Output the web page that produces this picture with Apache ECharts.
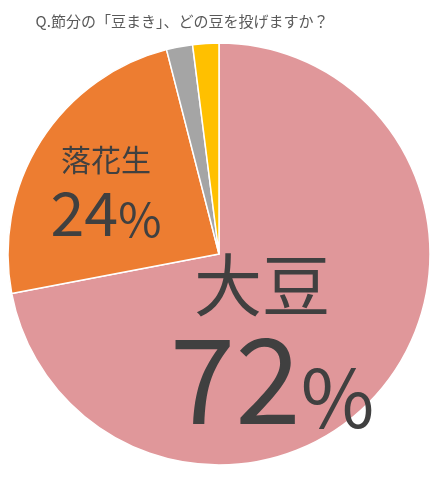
<!DOCTYPE html>
<html>
<head>
<meta charset="utf-8">
<script src="https://cdn.jsdelivr.net/npm/echarts@6/dist/echarts.min.js"></script>
<style>
  html, body { margin: 0; padding: 0; background: #fff; }
  #chart { width: 441px; height: 481px; }
</style>
</head>
<body>
<div id="chart"></div>
<script>
// 設問と回答
var title = 'Q.節分の「豆まき」、どの豆を投げますか？';
var categories = ['大豆', '落花生', 'その他', '無回答'];
var values = [72, 24, 2, 2];
var colors = ['#E0979A', '#ED7D31', '#A5A5A5', '#FFC000'];
var showLabel = [true, true, false, false];

var chart = echarts.init(document.getElementById('chart'));

var labelPos = [
  { x: 272, y: 340 },
  { x: 106, y: 191 }
];

var data = categories.map(function (name, i) {
  return {
    name: name,
    value: values[i],
    itemStyle: { color: colors[i] },
    label: { show: showLabel[i] }
  };
});

var option = {
  animation: false,
  title: {
    text: title,
    left: 177,
    top: 9,
    textAlign: 'center',
    textStyle: {
      fontFamily: 'Noto Sans CJK JP',
      fontSize: 15,
      fontWeight: 'normal',
      color: '#595959'
    }
  },
  series: [
    {
      type: 'pie',
      center: [219, 254],
      radius: 211,
      startAngle: 90,
      clockwise: true,
      itemStyle: { borderColor: '#fff', borderWidth: 1.5 },
      label: {
        position: 'inside',
        fontFamily: 'Noto Sans CJK JP',
        color: '#404040',
        formatter: function (p) {
          if (p.dataIndex === 0) {
            return '{n1|' + p.name + '}\n{v1|' + p.value + '}{p1|%}';
          }
          return '{n2|' + p.name + '}\n{v2|' + p.value + '}{p2|%}';
        },
        rich: {
          n1: { fontSize: 68, lineHeight: 86, color: '#404040', fontFamily: 'Noto Sans CJK JP', padding: [0, 20, 0, 0] },
          v1: { fontSize: 118, lineHeight: 110, color: '#404040', fontFamily: 'Noto Sans CJK JP', verticalAlign: 'bottom' },
          p1: { fontSize: 80, lineHeight: 110, color: '#404040', fontFamily: 'Noto Sans CJK JP', verticalAlign: 'bottom' },
          n2: { fontSize: 30, lineHeight: 42, color: '#404040', fontFamily: 'Noto Sans CJK JP' },
          v2: { fontSize: 61, lineHeight: 62, color: '#404040', fontFamily: 'Noto Sans CJK JP', verticalAlign: 'bottom' },
          p2: { fontSize: 47, lineHeight: 62, color: '#404040', fontFamily: 'Noto Sans CJK JP', verticalAlign: 'bottom' }
        }
      },
      labelLine: { show: false },
      labelLayout: function (params) {
        var lp = labelPos[params.dataIndex];
        if (!lp) return {};
        return { x: lp.x, y: lp.y, align: 'center', verticalAlign: 'middle' };
      },
      data: data
    }
  ]
};

chart.setOption(option);
</script>
</body>
</html>
